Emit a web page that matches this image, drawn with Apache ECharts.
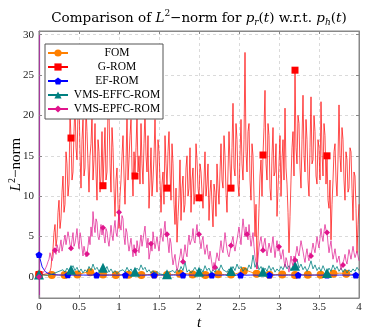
<!DOCTYPE html>
<html>
<head>
<meta charset="utf-8">
<script src="https://cdn.jsdelivr.net/npm/echarts@6/dist/echarts.min.js"></script>
<style>html,body{margin:0;padding:0;background:#fff}#c{width:365px;height:331px}</style>
</head>
<body>
<div id="c"></div>
<script>
// ---- data ----
var seriesNames = ['FOM', 'G-ROM', 'EF-ROM', 'VMS-EFFC-ROM', 'VMS-EPFC-ROM'];
var xTicks = [0, 0.5, 1, 1.5, 2, 2.5, 3, 3.5, 4];
var yTicks = [0, 5, 10, 15, 20, 25, 30];

// sampled every 0.04 in t
var fom = [0.3,0.28,0.25,0.24,0.25,0.26,0.25,0.24,0.25,0.27,
  0.28,0.3,0.32,0.38,0.5,0.58,0.6,0.52,0.42,0.35,
  0.3,0.27,0.25,0.24,0.25,0.26,0.28,0.3,0.27,0.25,
  0.24,0.25,0.26,0.27,0.3,0.32,0.3,0.28,0.26,0.25,
  0.26,0.28,0.3,0.35,0.4,0.45,0.42,0.36,0.3,0.27,
  0.26,0.25,0.26,0.28,0.3,0.33,0.35,0.32,0.3,0.28,
  0.3,0.35,0.45,0.6,0.75,0.8,0.65,0.5,0.4,0.33,
  0.3,0.28,0.27,0.28,0.3,0.32,0.3,0.28,0.27,0.26,
  0.25,0.26,0.27,0.28,0.27,0.26,0.25,0.26,0.28,0.3,
  0.32,0.35,0.4,0.45,0.48,0.45,0.4,0.35,0.32,0.3,
  0.3];
var efRom = [2.75,1.25,0.65,0.42,0.32,0.27,0.25,0.24,0.24,0.25,
  0.24,0.23,0.23,0.24,0.24,0.23,0.23,0.24,0.24,0.24,
  0.23,0.23,0.24,0.24,0.23,0.23,0.24,0.24,0.23,0.23,
  0.24,0.24,0.23,0.23,0.24,0.24,0.23,0.23,0.24,0.24,
  0.23,0.23,0.24,0.24,0.23,0.23,0.24,0.24,0.23,0.23,
  0.24,0.24,0.23,0.23,0.24,0.24,0.23,0.23,0.24,0.24,
  0.23,0.23,0.24,0.24,0.23,0.23,0.24,0.24,0.23,0.23,
  0.24,0.24,0.23,0.23,0.24,0.24,0.23,0.23,0.24,0.24,
  0.23,0.23,0.24,0.24,0.23,0.23,0.24,0.24,0.23,0.23,
  0.24,0.24,0.23,0.23,0.24,0.24,0.23,0.23,0.24,0.24,
  0.24];
// sampled every 0.0125 in t
var gRom = [0.3,0.3, 0.3,0.3, 0.3,0.32, 0.35,0.38, 0.4,0.45, 0.5,0.7, 1.2,2.5, 3.5,5.5, 6.5,3.8, 4.8,8.0,
  9.5,6.0, 7.2,10.5, 12.5,8.0, 9.0,15.5, 14.0,10.0, 11.5,20.5, 17.2,12.0, 13.0,18.0, 21.5,16.0, 14.5,20.5,
  22.0,15.5, 11.0,17.0, 19.5,12.5, 13.5,21.0, 18.0,14.0, 10.5,15.0, 16.5,20.0, 12.0,14.5, 19.0,13.0, 9.5,17.0,
  15.5,10.5, 12.5,18.0, 11.3,15.0, 18.5,12.0, 13.0,21.0, 20.5,14.0, 10.5,18.5, 16.0,11.0, 7.5,12.0, 13.5,9.0,
  6.0,10.0, 12.0,15.0, 17.5,12.5, 9.0,14.0, 20.0,12.0, 14.5,17.5, 19.5,13.5, 10.0,15.5, 12.5,16.0, 20.0,13.0,
  15.0,11.5, 19.0,14.0, 11.5,16.5, 20.5,15.0, 13.0,17.5, 8.5,12.0, 16.0,10.0, 12.0,15.0, 19.5,14.0, 10.5,17.0,
  15.5,12.0, 8.0,11.5, 13.0,9.0, 17.5,14.0, 11.0,15.5, 18.0,13.0, 9.5,16.5, 14.0,9.0, 6.5,11.0, 4.3,7.5,
  10.0,14.5, 7.0,11.0, 12.5,8.0, 9.0,13.5, 15.0,10.0, 11.0,16.0, 8.0,12.0, 13.5,9.0, 10.5,16.5, 14.5,11.0,
  9.8,14.0, 13.0,10.5, 8.5,12.0, 15.5,10.0, 11.5,14.0, 7.0,10.5, 12.0,9.0, 6.2,11.5, 10.5,7.5, 14.0,11.0,
  9.0,13.0, 16.5,12.0, 11.0,17.5, 15.0,10.5, 8.0,13.0, 18.0,14.0, 11.0,16.0, 21.5,13.5, 12.5,19.0, 17.0,11.5,
  10.0,15.0, 19.5,14.0, 12.0,17.0, 27.8,15.5, 13.0,18.0, 19.0,12.0, 9.5,16.5, 15.0,10.0, 5.0,9.0, 1.0,4.5,
  8.5,12.5, 14.5,10.0, 15.1,18.5, 23.1,14.0, 12.0,19.0, 17.5,11.0, 9.5,15.0, 18.5,12.5, 13.0,16.5, 7.5,11.0,
  14.0,17.5, 10.0,14.5, 17.0,12.0, 20.9,13.5, 11.5,8.0, 3.0,7.5, 12.0,16.0, 18.0,12.5, 25.6,16.0, 14.0,20.0,
  19.0,13.5, 11.0,17.0, 22.5,15.0, 13.0,19.5, 17.0,12.0, 10.0,16.0, 22.3,14.0, 14.5,20.0, 18.0,12.5, 11.5,17.0,
  16.0,12.0, 21.7,15.5, 12.5,19.0, 17.5,11.5, 15.0,9.5, 8.5,12.0, 4.6,9.0, 12.0,15.5, 16.5,12.0, 10.0,14.5,
  21.3,15.0, 13.0,18.5, 17.0,12.0, 9.5,15.5, 14.5,10.5, 11.0,16.0, 15.5,11.0, 7.0,13.0, 12.5,8.5, 3.0,6.5,
  9.0];
// sampled every 0.025 in t
var vmsEffc = [0.3,0.3,0.25,0.2,0.2,0.25,0.3,0.35,0.5,0.4,
  0.7,0.5,0.9,0.6,1.1,0.7,0.9,1.4,0.8,1.2,
  0.6,1.0,0.5,0.9,0.6,1.3,0.8,1.6,0.9,1.2,
  0.7,1.0,1.15,0.8,1.3,0.6,1.0,0.5,0.8,0.4,
  0.7,0.5,0.9,0.6,1.2,0.7,1.0,0.5,0.65,1.1,
  0.8,1.5,0.9,1.2,0.6,0.9,0.5,0.8,0.4,0.7,
  0.4,0.6,0.3,0.5,0.35,0.6,0.4,0.8,0.5,1.0,
  0.6,1.3,0.8,1.9,0.6,0.9,0.5,0.8,1.2,0.7,
  0.65,1.0,0.6,1.4,0.8,1.1,0.5,0.9,0.6,1.2,
  0.8,1.5,0.9,1.1,0.6,1.0,0.75,1.3,0.8,1.6,
  1.0,1.3,0.7,1.1,0.8,1.5,1.0,2.7,1.2,1.8,
  0.9,1.3,0.65,1.1,0.7,1.4,0.8,1.2,0.6,1.0,
  0.7,1.3,0.9,1.6,1.0,1.4,0.8,1.2,1.4,2.2,
  1.1,1.6,0.9,1.3,0.7,1.2,2.0,1.0,1.5,0.8,
  1.2,0.7,1.4,0.8,0.5,1.1,0.7,1.5,0.9,1.3,
  0.7,1.1,0.6,1.0,0.5,0.9,0.6,1.0,0.7,1.2,
  0.8];
// sampled every 0.0125 in t
var vmsEpfc = [0.0,0.1, 0.2,0.35, 0.5,0.7, 0.9,1.2, 1.5,1.9, 2.2,3.0, 2.8,2.0, 2.4,3.6, 3.3,2.8, 4.0,3.5,
  3.0,3.8, 4.6,3.2, 3.4,4.5, 5.2,4.0, 3.8,5.6, 4.9,4.0, 3.55,4.6, 5.5,3.8, 4.2,5.0, 6.0,4.5,
  3.5,5.5, 4.8,3.6, 2.6,3.8, 4.0,2.5, 2.85,3.8, 5.0,4.0, 6.2,5.0, 8.1,6.5, 5.5,7.2, 6.8,5.0,
  4.6,5.5, 6.5,5.2, 6.1,5.0, 4.2,6.0, 5.6,4.5, 3.8,5.0, 6.4,5.2, 4.5,6.0, 7.0,5.5, 5.0,6.6,
  8.0,6.5, 5.8,7.6, 7.2,5.0, 4.0,6.0, 5.5,4.2, 3.2,4.0, 4.8,3.6, 2.5,4.0, 3.25,2.6, 4.5,3.6,
  3.0,4.2, 5.2,3.8, 4.0,5.5, 6.3,4.6, 3.6,4.8, 2.2,3.0, 4.1,3.2, 5.6,4.5, 3.5,4.2, 5.0,4.0,
  3.2,4.5, 6.0,5.0, 4.4,5.8, 6.9,5.0, 5.3,4.2, 3.0,4.8, 4.2,2.6, 1.5,2.2, 2.8,1.6, 0.8,1.2,
  2.0,2.6, 3.5,2.5, 1.9,3.0, 4.0,3.0, 2.5,4.2, 5.2,4.0, 3.8,4.8, 6.0,4.5, 4.2,5.5, 6.5,5.0,
  5.3,4.4, 3.5,4.5, 5.0,3.6, 2.8,3.5, 4.0,2.8, 2.2,3.2, 3.0,1.6, 0.8,1.8, 1.2,2.2, 3.0,2.4,
  2.0,3.5, 4.5,3.4, 3.0,4.2, 5.5,4.4, 3.5,2.8, 2.5,3.2, 3.9,4.5, 5.0,3.8, 3.2,4.0, 4.6,5.4,
  6.2,5.0, 4.0,5.8, 7.2,6.0, 5.0,6.2, 5.3,4.6, 6.5,5.0, 3.8,4.6, 5.5,3.8, 2.5,1.8, 1.0,2.2,
  3.6,4.4, 5.0,4.0, 3.3,4.2, 4.8,3.5, 2.6,3.4, 4.2,3.6, 3.0,4.0, 5.0,3.6, 2.4,3.5, 4.5,3.2,
  3.75,3.0, 2.2,2.8, 3.4,2.0, 1.2,2.4, 2.0,1.2, 0.6,1.6, 2.6,1.8, 1.4,2.6, 2.1,3.0, 3.8,3.0,
  2.6,3.6, 4.5,3.8, 3.2,2.4, 1.8,2.8, 3.5,2.5, 2.0,3.0, 2.6,3.4, 4.2,3.5, 3.0,4.0, 5.0,4.2,
  3.6,4.8, 6.0,5.0, 4.4,5.6, 6.5,5.8, 5.5,4.2, 3.0,3.8, 4.5,3.2, 2.2,2.8, 3.5,2.6, 1.8,2.2,
  2.6,1.6, 0.9,1.4, 1.5,2.2, 2.8,2.0, 1.6,2.5, 3.4,2.8, 2.2,3.0, 3.8,3.0, 2.4,2.8, 3.2,2.6,
  2.0];

var FONT = 'Liberation Serif';
var TFONT = 'DejaVu Serif';

function build(values, step, every) {
  return values.map(function (v, i) {
    var item = { value: [+(i * step).toFixed(5), v] };
    if (i % every !== 0 || i === values.length - 1) item.symbol = 'none';
    return item;
  });
}
function isTick(arr, v) {
  for (var k = 0; k < arr.length; k++) if (Math.abs(arr[k] - v) < 1e-6) return true;
  return false;
}

var pentagon = 'path://M0,-1L0.951,-0.309L0.588,0.809L-0.588,0.809L-0.951,-0.309Z';
var colors = ['#ff8000', '#ff0000', '#0000ff', '#008080', '#e0148c'];

var chart = echarts.init(document.getElementById('c'), null, { renderer: 'canvas' });

var gridLine = { show: true, lineStyle: { color: '#dadada', type: [3, 3], width: 1 } };
var tickStyle = { show: true, inside: true, length: 3, lineStyle: { color: '#888', width: 1 } };
var labelStyle = { fontFamily: FONT, fontSize: 11, color: '#222' };

function mkSeries(idx, values, step, every, symbol, size, width) {
  return {
    name: seriesNames[idx], type: 'line', xAxisIndex: 0, yAxisIndex: 0,
    data: build(values, step, every),
    symbol: symbol, symbolSize: size, symbolKeepAspect: true,
    showSymbol: true, showAllSymbol: true,
    lineStyle: { color: colors[idx], width: width },
    itemStyle: { color: colors[idx] },
    emphasis: { disabled: true },
    animation: false, sampling: null, z: 2 + idx
  };
}

chart.setOption({
  animation: false,
  title: {
    text: '{n|Comparison of }{i|L}{sup|2}{n|−norm for }{i|p}{sub|r}{n|(}{i|t}{n|) w.r.t. }{i|p}{sub|h}{n|(}{i|t}{n|)}',
    left: 194, top: 4, textAlign: 'center',
    textStyle: {
      fontWeight: 'normal',
      rich: {
        n: { fontFamily: TFONT, fontSize: 13.5, fontWeight: 'normal', color: '#000', lineHeight: 18, verticalAlign: 'middle' },
        i: { fontFamily: TFONT, fontSize: 13.5, fontWeight: 'normal', fontStyle: 'italic', color: '#000', lineHeight: 18, verticalAlign: 'middle' },
        sup: { fontFamily: TFONT, fontSize: 9, fontWeight: 'normal', color: '#000', verticalAlign: 'top', lineHeight: 10 },
        sub: { fontFamily: TFONT, fontSize: 9, fontWeight: 'normal', fontStyle: 'italic', color: '#000', verticalAlign: 'bottom', lineHeight: 10 }
      }
    }
  },
  grid: { left: 39, right: 6, top: 31, bottom: 33, containLabel: false, outerBoundsMode: 'none',
    show: true, borderColor: '#888', borderWidth: 1, backgroundColor: 'transparent' },
  legend: {
    orient: 'vertical', left: 45, top: 44, itemWidth: 20, itemHeight: 9, itemGap: 2,
    backgroundColor: '#fff', borderColor: '#555', borderWidth: 1, borderRadius: 0,
    padding: [3, 2, 4, 2],
    data: seriesNames,
    formatter: function (n) { return '{a|' + n + '}'; },
    textStyle: { rich: { a: { fontFamily: FONT, fontSize: 11.5, color: '#000', width: 88, align: 'center', lineHeight: 11 } } }
  },
  xAxis: [{
    type: 'value', min: 0, max: 4, interval: 0.5, position: 'bottom',
    name: 't', nameLocation: 'middle', nameGap: 18, nameMoveOverlap: false,
    nameTextStyle: { fontFamily: FONT, fontSize: 15, fontStyle: 'italic', color: '#000' },
    axisLine: { show: true, onZero: false, lineStyle: { color: '#888' } },
    axisTick: tickStyle,
    axisLabel: Object.assign({ margin: 4, formatter: function (v) { return isTick(xTicks, v) ? String(v) : ''; } }, labelStyle),
    splitLine: gridLine
  }, {
    type: 'value', min: 0, max: 4, interval: 0.5, position: 'top',
    axisLine: { show: true, onZero: false, lineStyle: { color: '#888' } },
    axisTick: tickStyle, axisLabel: { show: false }, splitLine: { show: false }
  }],
  yAxis: [{
    type: 'value', min: -2.6, max: 30.45, splitNumber: 6, position: 'left',
    name: '{i|L}{s|2}{n|−norm}', nameLocation: 'middle', nameGap: 14, nameRotate: 90, nameMoveOverlap: false,
    nameTextStyle: {
      rich: {
        i: { fontFamily: FONT, fontSize: 15, fontStyle: 'italic', color: '#000', lineHeight: 18, verticalAlign: 'middle' },
        n: { fontFamily: FONT, fontSize: 15, color: '#000', lineHeight: 18, verticalAlign: 'middle' },
        s: { fontFamily: FONT, fontSize: 10, color: '#000', verticalAlign: 'top', lineHeight: 10 }
      }
    },
    axisLine: { show: true, onZero: false, lineStyle: { color: '#a5399c', width: 1.2 } },
    axisTick: tickStyle,
    axisLabel: Object.assign({ margin: 5, showMinLabel: false, showMaxLabel: false, formatter: function (v) { return isTick(yTicks, v) ? String(v) : ''; } }, labelStyle),
    splitLine: gridLine
  }, {
    type: 'value', min: -2.6, max: 30.45, splitNumber: 6, position: 'right',
    axisLine: { show: true, onZero: false, lineStyle: { color: '#888' } },
    axisTick: tickStyle, axisLabel: { show: false }, splitLine: { show: false }
  }],
  series: [
    mkSeries(0, fom, 0.04, 4, 'circle', 8, 0.9),
    mkSeries(1, gRom, 0.0125, 32, 'rect', 7, 0.7),
    mkSeries(2, efRom, 0.04, 9, pentagon, 7, 0.9),
    mkSeries(3, vmsEffc, 0.025, 16, 'triangle', 10, 0.8),
    mkSeries(4, vmsEpfc, 0.0125, 16, 'diamond', 6, 0.7)
  ]
});
</script>
</body>
</html>
